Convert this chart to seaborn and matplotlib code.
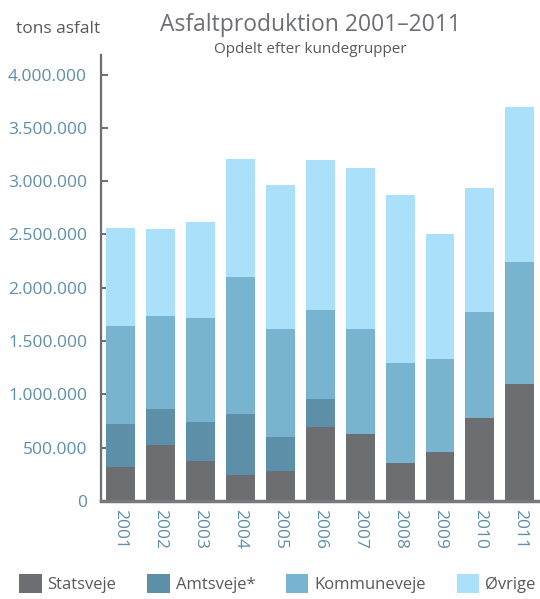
import matplotlib
matplotlib.use("Agg")
import matplotlib.pyplot as plt
import matplotlib.ticker as mticker
from matplotlib.patches import Patch
import seaborn as sns
import pandas as pd

years = ["2001", "2002", "2003", "2004", "2005", "2006", "2007", "2008", "2009", "2010", "2011"]
statsveje = [319000, 525000, 375000, 244000, 281000, 694000, 628000, 356000, 459000, 778000, 1097000]
amtsveje = [403000, 337000, 365000, 571000, 319000, 262000, 0, 0, 0, 0, 0]
kommuneveje = [918000, 872000, 975000, 1284000, 1012000, 834000, 984000, 937000, 872000, 993000, 1143000]
ovrige = [919000, 815000, 900000, 1106000, 1350000, 1406000, 1509000, 1575000, 1171000, 1162000, 1453000]

series = ["Statsveje", "Amtsveje*", "Kommuneveje", "Øvrige"]
colors = ["#6d6e71", "#5e8fa8", "#78b3cf", "#aae0fa"]

df = pd.DataFrame({"year": years, "Statsveje": statsveje, "Amtsveje*": amtsveje,
                   "Kommuneveje": kommuneveje, "Øvrige": ovrige})
# cumulative tops so the stack can be drawn back to front
cum = df[series].cumsum(axis=1)

sns.set_style("white")
plt.rcParams["font.family"] = ["Open Sans", "DejaVu Sans"]

fig = plt.figure(figsize=(5.4, 5.99), dpi=100)
ax = fig.add_axes([0.187, 0.1636, 0.809, 0.744])

for name, col in reversed(list(zip(series, colors))):
    sns.barplot(x=df["year"], y=cum[name], color=col, saturation=1, width=0.725,
                order=years, errorbar=None, linewidth=0, edgecolor="none", ax=ax)

ax.set_xlim(-0.49, 10.45)
ax.set_ylim(0, 4180000)
ax.set_yticks(range(0, 4000001, 500000))
ax.yaxis.set_major_formatter(mticker.FuncFormatter(lambda v, p: f"{int(v):,}".replace(",", ".")))
ax.set_xlabel("")
ax.set_ylabel("")

for s in ["top", "right"]:
    ax.spines[s].set_visible(False)
ax.spines["left"].set_color("#6d6e71")
ax.spines["left"].set_linewidth(1.6)
ax.spines["bottom"].set_color("#77787b")
ax.spines["bottom"].set_linewidth(2.5)

ax.tick_params(axis="y", direction="in", length=5, width=1.4, color="#6d6e71",
               labelcolor="#5e8fa8", labelsize=12.5, pad=10, left=True)
ax.tick_params(axis="x", length=0, labelcolor="#5e8fa8", labelsize=12.5, pad=6)
for lbl in ax.get_xticklabels():
    lbl.set_rotation(-90)
    lbl.set_va("top")
    lbl.set_ha("center")

fig.text(0.574, 0.958, "Asfaltproduktion 2001–2011", ha="center", va="center",
         fontsize=16.5, color="#6d6e71")
fig.text(0.574, 0.917, "Opdelt efter kundegrupper", ha="center", va="center",
         fontsize=11, color="#58595b")
fig.text(0.03, 0.951, "tons asfalt", ha="left", va="center", fontsize=12.5, color="#58595b")

handles = [Patch(facecolor=c, edgecolor="none") for c in colors]
fig.legend(handles, series, loc="lower left", bbox_to_anchor=(0.02, -0.004), ncol=4,
           frameon=False, handlelength=1.35, handleheight=1.35, handletextpad=0.35,
           columnspacing=1.85, borderaxespad=0.1, prop={"size": 12}, labelcolor="#58595b")

fig.savefig("out.png", dpi=100)
